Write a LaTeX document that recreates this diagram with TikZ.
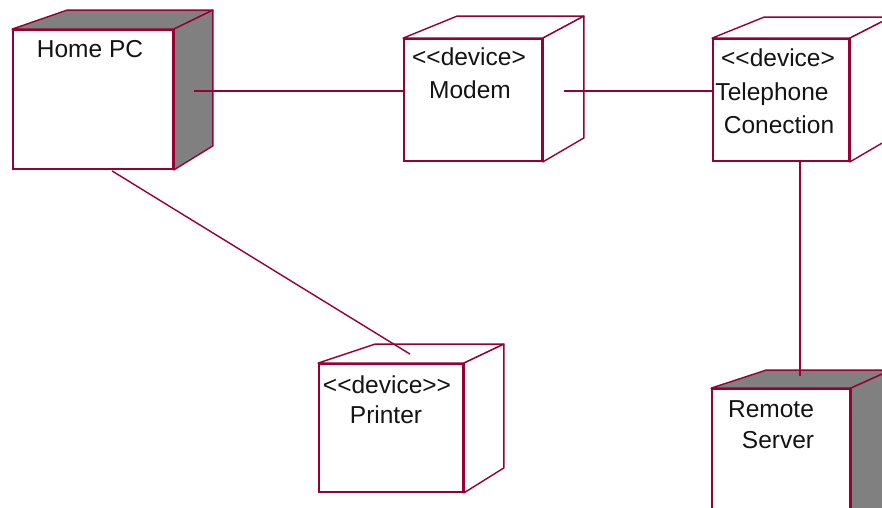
\documentclass[tikz,border=0pt]{standalone}
\usepackage{fontspec}
\setmainfont{Liberation Sans}[Ligatures=TeXOff]
\definecolor{rose}{RGB}{150,0,50}
\definecolor{shade}{RGB}{128,128,128}
\definecolor{ink}{RGB}{20,20,20}
\pgfdeclarelayer{bg}
\pgfsetlayers{bg,main}
\newcommand\ddnfaces[6]{%
  \draw[face, fill=#6] (#1.north west) -- ++(#2,-#4) -- ([shift={(#3,-#4)}]#1.north east) -- (#1.north east) -- cycle;
  \draw[face, fill=#6] (#1.north east) -- ++(#3,-#4) -- ([shift={(#3,-#5)}]#1.south east) -- (#1.south east) -- cycle;}
\begin{document}
\begin{tikzpicture}[x=1pt,y=-1pt,
  front/.style={draw=rose, fill=white, line width=1.8pt, rectangle, inner sep=0pt},
  face/.style={draw=rose, line width=1.4pt, line join=round},
  edge3/.style={draw=rose, line width=3pt},
  lbl/.style={font=\fontsize{24.5}{30}\selectfont, text=ink, inner sep=0pt, anchor=base},
  link/.style={draw=rose, line width=1.4pt}]
\clip (0,0) rectangle (882,507);

% front faces
\node[front, minimum width=160pt, minimum height=139pt] (pc) at (93,99.5) {};
\node[front, minimum width=138pt, minimum height=122pt] (modem) at (473,100) {};
\node[front, minimum width=136pt, minimum height=122pt] (tel) at (781,100) {};
\node[front, minimum width=144pt, minimum height=128pt] (printer) at (391,428) {};
\node[front, minimum width=138pt, minimum height=151pt] (server) at (781,464.5) {};

% 3D faces
\begin{pgfonlayer}{bg}
  \fill[white] (0,0) rectangle (882,507);
  \ddnfaces{pc}{55}{39}{19}{24}{shade}
  \ddnfaces{modem}{54}{41}{22}{24}{white}
  \ddnfaces{tel}{52}{41}{21}{24}{white}
  \ddnfaces{printer}{57}{40}{19}{25}{white}
  \ddnfaces{server}{55}{40}{18}{24}{shade}
\end{pgfonlayer}

% thick front right edges
\foreach \n in {pc,modem,tel,printer,server}
  \draw[edge3] (\n.north east) -- (\n.south east);

% labels
\node[lbl] (pcL) at (90,57) {Home PC};
\node[lbl] (modemS) at (469,65) {<<device>};
\node[lbl] (modemL) at (470,98) {Modem};
\node[lbl] (telS) at (778,66) {<<device>};
\node[lbl] (telL1) at (772,100) {Telephone};
\node[lbl] (telL2) at (779,133) {Conection};
\node[lbl] (printerS) at (387,393) {<<device>>};
\node[lbl] (printerL) at (386,423) {Printer};
\node[lbl] (serverL1) at (771,417) {Remote};
\node[lbl] (serverL2) at (778,448) {Server};

% connectors
\draw[link] ([shift={(20,-8.5)}]pc.east) -- ([shift={(0,-9)}]modem.west);
\draw[link] ([shift={(21,-9)}]modem.east) -- ([shift={(0,-9)}]tel.west);
\draw[link] ([shift={(19,0)}]tel.south) -- ([shift={(19,-12)}]server.north);
\draw[link] ([shift={(19,1)}]pc.south) -- ([shift={(19,-9)}]printer.north);
\end{tikzpicture}
\end{document}
